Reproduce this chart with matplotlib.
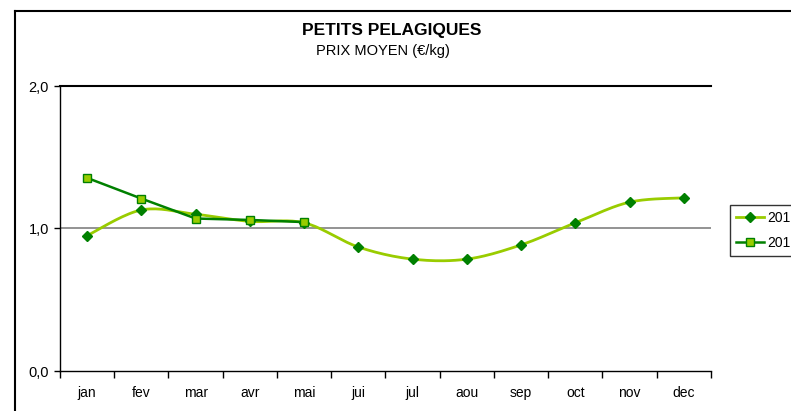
import numpy as np
import matplotlib.pyplot as plt
from matplotlib.lines import Line2D

plt.rcParams['font.family'] = ['Liberation Sans', 'DejaVu Sans']

months = ['jan', 'fev', 'mar', 'avr', 'mai', 'jui', 'jul', 'aou', 'sep', 'oct', 'nov', 'dec']
prix_a = [0.95, 1.13, 1.10, 1.05, 1.04, 0.87, 0.785, 0.785, 0.885, 1.04, 1.185, 1.215]
prix_b = [1.355, 1.21, 1.07, 1.06, 1.045]
labels = ['201', '201']   # as shown, the legend is cut by the chart edge

light = '#99CC00'
dark = '#008000'


# Excel-like smoothed line (Catmull-Rom through the points)
def smooth(x, y, n=20):
    x = np.asarray(x, float)
    y = np.asarray(y, float)
    px = np.concatenate(([x[0]], x, [x[-1]]))
    py = np.concatenate(([y[0]], y, [y[-1]]))
    xs, ys = [], []
    t = np.linspace(0, 1, n)
    for i in range(1, len(px) - 2):
        for p, out in ((px, xs), (py, ys)):
            p0, p1, p2, p3 = p[i - 1], p[i], p[i + 1], p[i + 2]
            out.extend(0.5 * ((2 * p1) + (-p0 + p2) * t
                              + (2 * p0 - 5 * p1 + 4 * p2 - p3) * t ** 2
                              + (-p0 + 3 * p1 - 3 * p2 + p3) * t ** 3))
    return np.array(xs), np.array(ys)


fig = plt.figure(figsize=(7.91, 4.11), dpi=100)
ax = fig.add_axes([60 / 791, 1 - 371 / 411, 651 / 791, 285 / 411])

xa = np.arange(len(prix_a))
xb = np.arange(len(prix_b))
sx, sy = smooth(xa, prix_a)

ax.axhline(1.0, color='#808080', lw=1.2, zorder=1)
ax.plot(sx, sy, color=light, lw=2, zorder=2)
ax.plot(xa, prix_a, ls='none', marker='D', ms=5, color=dark, zorder=3)
ax.plot(xb, prix_b, color=dark, lw=1.8, marker='s', ms=6,
        mfc=light, mec=dark, mew=1, zorder=4)

ax.set_xlim(-0.5, len(months) - 0.5)
ax.set_ylim(0, 2)
ax.set_yticks([0, 1, 2])
ax.set_yticklabels(['0,0', '1,0', '2,0'], fontsize=10.5)
ax.set_xticks(np.arange(-0.5, len(months)))
ax.set_xticklabels([])
ax.set_xticks(xa, minor=True)
ax.set_xticklabels(months, minor=True, fontsize=10)
ax.tick_params(axis='x', which='major', direction='out', length=5, width=1)
ax.tick_params(axis='x', which='minor', length=0, pad=11)
ax.tick_params(axis='y', direction='out', length=4, width=1, pad=4)

ax.spines['right'].set_visible(False)
for s in ['left', 'bottom', 'top']:
    ax.spines[s].set_color('black')
    ax.spines[s].set_linewidth(1)
ax.spines['top'].set_linewidth(1.5)

fig.text(392 / 791, 1 - 31 / 411, 'PETITS PELAGIQUES', ha='center', va='center',
         fontsize=12.5, fontweight='bold')
fig.text(383 / 791, 1 - 51 / 411, 'PRIX MOYEN (€/kg)', ha='center', va='center',
         fontsize=10.5)

handles = [Line2D([], [], color=light, lw=2, marker='D', ms=5, mfc=dark, mec=dark),
           Line2D([], [], color=dark, lw=1.8, marker='s', ms=6, mfc=light, mec=dark)]
leg = fig.legend(handles, labels, loc='upper left',
                 bbox_to_anchor=(730 / 791, 1 - 205 / 411),
                 fontsize=10, frameon=True, fancybox=False, handlelength=2.0,
                 handletextpad=0.25, borderpad=0.45, labelspacing=0.75,
                 borderaxespad=0)
leg.get_frame().set_edgecolor('black')
leg.get_frame().set_linewidth(1)

# outer chart border
bx, by = 15 / 791, 1 - 11 / 411
fig.add_artist(Line2D([bx, bx], [0, by], color='black', lw=1.5))
fig.add_artist(Line2D([bx, 1], [by, by], color='black', lw=1.5))

fig.savefig('out.png', dpi=100)
